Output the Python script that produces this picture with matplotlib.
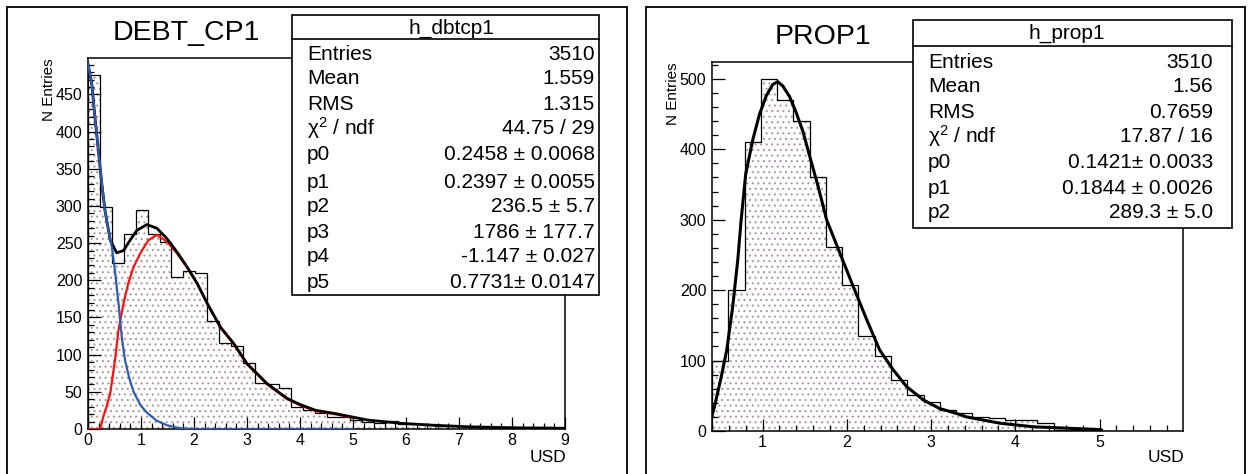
import matplotlib.pyplot as plt
import numpy as np
from matplotlib.patches import Rectangle
from matplotlib.lines import Line2D
from matplotlib.ticker import MultipleLocator

plt.rcParams['font.family'] = ['Liberation Sans', 'DejaVu Sans']
plt.rcParams['mathtext.fontset'] = 'custom'
plt.rcParams['mathtext.rm'] = 'Liberation Sans'
plt.rcParams['mathtext.it'] = 'Liberation Sans'
plt.rcParams['mathtext.default'] = 'regular'
plt.rcParams['hatch.linewidth'] = 0.8

# ---- DEBT_CP1 histogram (40 bins, 0..9) ----
debt_edges = np.linspace(0, 9, 41)
debt_counts = [476, 299, 223, 262, 295, 262, 252, 204, 213, 210,
               145, 115, 112, 89, 62, 61, 55, 30, 25, 21,
               16, 16, 12, 9, 8, 11, 7, 7, 6, 4,
               4, 4, 3, 3, 2, 2, 2, 3, 3, 1]

# total fit (black)
debt_fit_x = [0, 0.07, 0.13, 0.195, 0.26, 0.32, 0.42, 0.54, 0.67, 0.795, 0.92, 1.11,
              1.30, 1.49, 1.68, 1.87, 2.06, 2.25, 2.5, 2.75, 3.0, 3.38, 3.76, 4.0,
              4.3, 4.65, 5.28, 5.91, 6.54, 7.17, 7.8, 8.43, 9.0]
debt_fit_y = [491, 465, 420, 375, 330, 294, 254, 237, 240, 254, 267, 275,
              270, 256, 238, 218, 196, 169, 137, 115, 88, 61, 41, 33,
              25, 21, 12, 7.6, 5, 3, 2, 1.3, 1]
# first component (blue)
debt_c1_x = [0, 0.07, 0.13, 0.195, 0.26, 0.32, 0.40, 0.45, 0.51, 0.58, 0.64, 0.70,
             0.78, 0.86, 0.99, 1.11, 1.30, 1.49, 1.74, 2.0, 5.0]
debt_c1_y = [491, 465, 420, 375, 330, 294, 262, 245, 212, 166, 122, 92,
             68, 50, 32, 22, 11, 5, 1, 0, 0]
# second component (red)
debt_c2_x = [0, 0.23, 0.29, 0.35, 0.42, 0.51, 0.575, 0.67, 0.76, 0.86, 0.985, 1.14,
             1.30, 1.49, 1.68, 1.87, 2.06, 2.25, 2.5, 2.75, 3.0, 3.38, 3.76, 4.0,
             4.3, 4.65, 5.0]
debt_c2_y = [0, 0, 17, 30, 48, 93, 133, 169, 196, 218, 236, 254,
             261, 252, 236, 217, 195, 168, 136, 114, 87, 60, 40, 32,
             24, 20, 15]

debt_stats = [("Entries", "3510"), ("Mean", "1.559"), ("RMS", "1.315"),
              (r"$\chi^{2}$ / ndf", "44.75 / 29"),
              ("p0", "0.2458 ± 0.0068"), ("p1", "0.2397 ± 0.0055"),
              ("p2", "236.5 ± 5.7"), ("p3", "1786 ± 177.7"),
              ("p4", "-1.147 ± 0.027"), ("p5", "0.7731± 0.0147")]

# ---- PROP1 histogram (29 bins, 0.4..6.0) ----
prop_edges = np.linspace(0.4, 6.0, 30)
prop_counts = [100, 200, 410, 500, 470, 440, 360, 262, 207, 135,
               106, 73, 51, 41, 30, 25, 20, 19, 16, 16,
               12, 1, 1, 3, 0, 0, 0, 0, 0]
prop_fit_x = [0.40, 0.43, 0.51, 0.575, 0.646, 0.706, 0.746, 0.80, 0.885, 0.964,
              1.044, 1.12, 1.18, 1.24, 1.32, 1.40, 1.48, 1.56, 1.66, 1.76,
              1.92, 2.08, 2.24, 2.39, 2.55, 2.71, 2.91, 3.10, 3.30, 3.42,
              3.82, 4.21, 4.61, 5.01]
prop_fit_y = [22, 35, 77, 115, 177, 243, 300, 365, 414, 450,
              476, 492, 496, 490, 475, 452, 425, 390, 347, 300,
              252, 204, 157, 115, 87, 63, 44, 32, 25, 20,
              11, 6, 4, 2]

prop_stats = [("Entries", "3510"), ("Mean", "1.56"), ("RMS", "0.7659"),
              (r"$\chi^{2}$ / ndf", "17.87 / 16"),
              ("p0", "0.1421± 0.0033"), ("p1", "0.1844 ± 0.0026"),
              ("p2", "289.3 ± 5.0")]

W, H = 1250, 474
fig = plt.figure(figsize=(W / 100, H / 100), dpi=100)


def fx(x):
    return x / W


def fy(y):
    return 1 - y / H


def frame(x0, y0, x1, y1, lw=1.2, z=1):
    fig.add_artist(Rectangle((fx(x0), fy(y1)), fx(x1) - fx(x0), fy(y0) - fy(y1),
                             transform=fig.transFigure, facecolor='white',
                             edgecolor='black', lw=lw, zorder=z))


def panel(box, edges, counts, xlim, ylim, xmaj, ymaj, ymin):
    l, t, r, b = box
    ax = fig.add_axes([fx(l), fy(b), fx(r) - fx(l), fy(t) - fy(b)], zorder=2)
    ax.stairs(counts, edges, fill=True, facecolor='white', edgecolor='#b09a9a',
              hatch='...', linewidth=0)
    ax.stairs(counts, edges, color='black', lw=0.9)
    ax.set_xlim(*xlim)
    ax.set_ylim(*ylim)
    ax.xaxis.set_major_locator(MultipleLocator(xmaj))
    ax.xaxis.set_minor_locator(MultipleLocator(0.2))
    ax.yaxis.set_major_locator(MultipleLocator(ymaj))
    ax.yaxis.set_minor_locator(MultipleLocator(ymin))
    ax.tick_params(which='both', direction='in', width=0.9, labelsize=11.5,
                   top=False, right=False)
    ax.tick_params(which='major', length=9)
    ax.tick_params(which='minor', length=4.5)
    ax.tick_params(axis='x', pad=3)
    ax.tick_params(axis='y', pad=4)
    for s in ax.spines.values():
        s.set_linewidth(1.1)
    return ax


def stats_box(l, t, r, b, head_y, title, title_x, title_y, rows, row_y, lab_x, val_x):
    frame(l, t, r, b, lw=1.2, z=5)
    fig.add_artist(Line2D([fx(l), fx(r)], [fy(head_y), fy(head_y)],
                          transform=fig.transFigure, color='black', lw=1.2, zorder=6))
    fig.text(fx(title_x), fy(title_y), title, ha='center', va='center',
             fontsize=15, zorder=7)
    for (lab, val), y in zip(rows, row_y):
        fig.text(fx(lab_x), fy(y), lab, ha='left', va='center', fontsize=15, zorder=7)
        fig.text(fx(val_x), fy(y), val, ha='right', va='center', fontsize=15, zorder=7)


# outer pad frames
frame(7, 7, 627, 490, lw=1.3, z=0)
frame(646, 7, 1245, 490, lw=1.3, z=0)

# ---- left: DEBT_CP1 ----
ax1 = panel((88, 58, 565, 429), debt_edges, debt_counts, (0, 9), (0, 499), 1, 50, 10)
ax1.plot(debt_fit_x, debt_fit_y, color='black', lw=2.0, zorder=3)
ax1.plot(debt_c2_x, debt_c2_y, color='#ff1010', lw=1.6, zorder=2.9)
ax1.plot(debt_c1_x, debt_c1_y, color='#2c5cb4', lw=1.6, zorder=3.1)
fig.text(fx(186), fy(33), "DEBT_CP1", ha='center', va='center', fontsize=20.5)
fig.text(fx(49), fy(58), "N Entries", rotation=90, ha='center', va='top', fontsize=11)
fig.text(fx(566), fy(457), "USD", ha='right', va='center', fontsize=12.5)
stats_box(292, 15, 599, 295, 39, "h_dbtcp1", 451, 28, debt_stats,
          [55, 79, 104, 128, 155, 182, 207, 232, 257, 283], 307, 595)

# ---- right: PROP1 ----
ax2 = panel((712, 62, 1183, 431), prop_edges, prop_counts, (0.4, 5.99), (0, 524), 1, 100, 20)
ax2.plot(prop_fit_x, prop_fit_y, color='black', lw=2.2, zorder=3)
fig.text(fx(823), fy(37), "PROP1", ha='center', va='center', fontsize=20.5)
fig.text(fx(673), fy(62), "N Entries", rotation=90, ha='center', va='top', fontsize=11)
fig.text(fx(1184), fy(458), "USD", ha='right', va='center', fontsize=12.5)
stats_box(913, 20, 1232, 228, 46, "h_prop1", 1067, 33, prop_stats,
          [62, 87, 112, 136, 163, 189, 213], 928, 1213)

fig.savefig("out.png", dpi=100)
